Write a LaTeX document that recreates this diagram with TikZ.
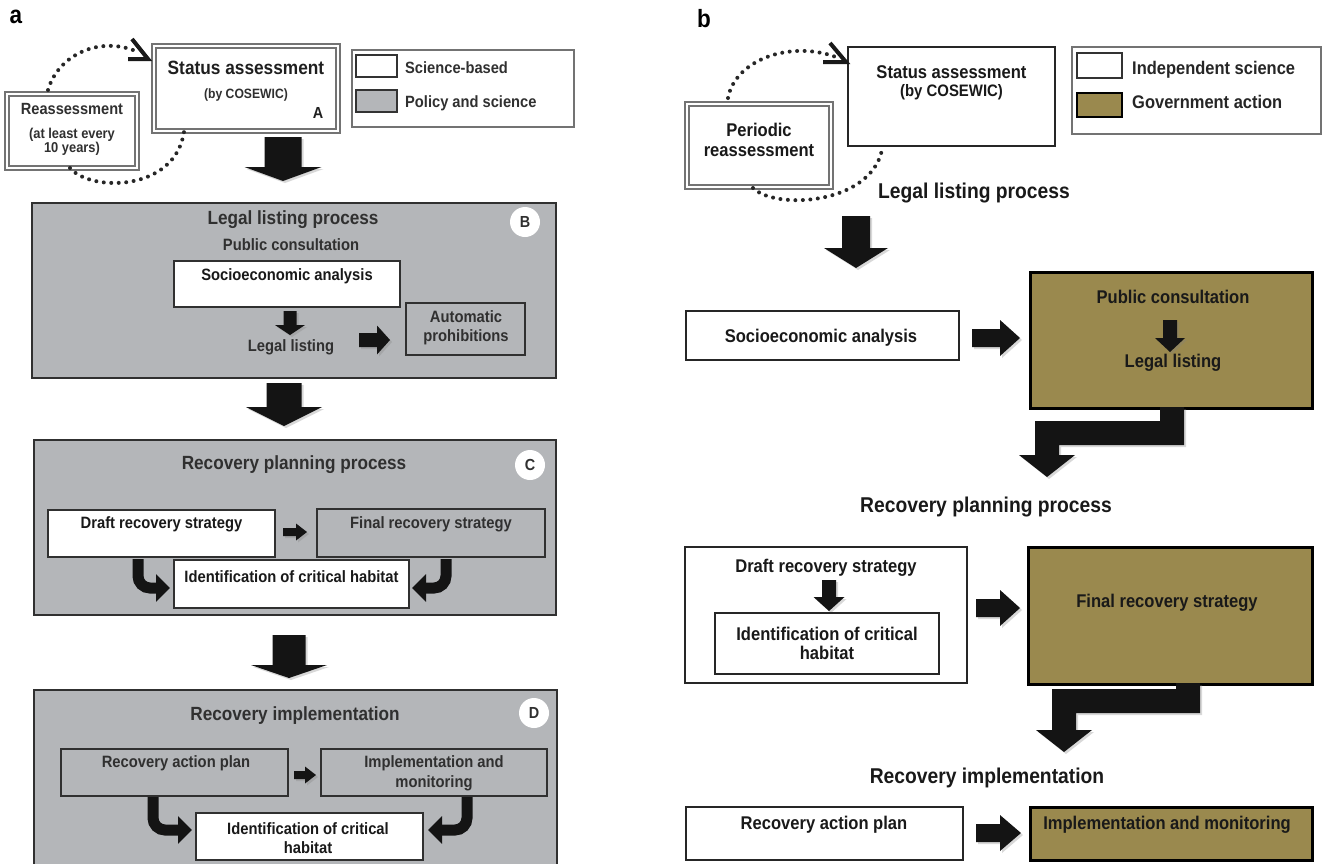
\documentclass[tikz,border=0pt]{standalone}
\usepackage{fontspec}
\setmainfont{Liberation Sans}[FakeStretch=0.9]
\usetikzlibrary{shadows,arrows.meta}
\definecolor{pgray}{RGB}{180,182,185}
\definecolor{olivefill}{RGB}{154,137,78}
\definecolor{dk}{RGB}{48,48,48}
\newcommand\BlkDown[6]{% cx, ytop, yhead, ytip, shaftw, headw
 \fill[blk] ({#1-#5/2},#2) -- ({#1+#5/2},#2) -- ({#1+#5/2},#3) -- ({#1+#6/2},#3) -- (#1,#4) -- ({#1-#6/2},#3) -- ({#1-#5/2},#3) -- cycle;}
\newcommand\BlkRight[6]{% cy, xstart, xhead, xtip, shafth, headh
 \fill[blk] (#2,{#1-#5/2}) -- (#3,{#1-#5/2}) -- (#3,{#1-#6/2}) -- (#4,#1) -- (#3,{#1+#6/2}) -- (#3,{#1+#5/2}) -- (#2,{#1+#5/2}) -- cycle;}
\tikzset{
 blk/.style={fill=black!92, drop shadow={opacity=0.3,shadow xshift=2pt,shadow yshift=-2pt}},
 gbox/.style={draw=dk, line width=2pt, fill=pgray, inner sep=0pt},
 wbox/.style={draw=dk, line width=2pt, fill=white, inner sep=0pt},
 dbox/.style={draw=black!55, double=white, double distance=2pt, line width=1.6pt, fill=white, inner sep=0pt},
 bbox/.style={draw=black!85, line width=2.5pt, fill=white, inner sep=0pt},
 obox/.style={draw=black, line width=3pt, fill=olivefill, inner sep=0pt},
 swatch/.style={draw=black!80, line width=2pt, inner sep=0pt},
 ta/.style={font=\bfseries\fontsize{16.4}{19}\selectfont, text=dk, inner sep=0pt, align=center},
 ha/.style={font=\bfseries\fontsize{19.1}{22}\selectfont, text=dk, inner sep=0pt, align=center},
 tb/.style={font=\bfseries\fontsize{18.4}{20}\selectfont, text=black!90, inner sep=0pt, align=center},
 hb/.style={font=\bfseries\fontsize{21.4}{24}\selectfont, text=black!90, inner sep=0pt, align=center},
 circ/.style={circle, fill=white, minimum size=30pt, inner sep=0pt, font=\bfseries\fontsize{16}{18}\selectfont, text=dk},
 dots/.style={line width=4pt, line cap=round, dash pattern=on 0pt off 7.5pt, draw=black!85},
 curv/.style={line width=11pt, draw=black!92, rounded corners=12pt, -{Triangle[length=14pt,width=27pt]}},
 headline/.style={line width=4pt, draw=black!90, line join=miter}
}
\begin{document}
\begin{tikzpicture}[x=1pt,y=-1pt]
\useasboundingbox (0,0) rectangle (1324,863);
\clip (0,0) rectangle (1324,863);
\fill[white] (0,0) rectangle (1324,863);

% ================= PANEL a =================
\node[font=\bfseries\fontsize{25}{28}\selectfont, inner sep=0pt] (la) at (16,17) {a};

\node[dbox, minimum width=130pt, minimum height=74pt] (reass) at (72,131) {};
\node[font=\bfseries\fontsize{16.2}{19}\selectfont, text=dk, inner sep=0pt] (reassT) at (72,109) {Reassessment};
\node[font=\bfseries\fontsize{14.3}{13.5}\selectfont, text=dk, inner sep=0pt, align=center] (reassS) at (72,142) {(at least every\\10 years)};

\node[dbox, minimum width=184pt, minimum height=85pt] (statA) at (246,88.5) {};
\node[font=\bfseries\fontsize{19.2}{22}\selectfont, text=black!88, inner sep=0pt] (statAT) at (246,68) {Status assessment};
\node[font=\bfseries\fontsize{13.5}{16}\selectfont, text=dk, inner sep=0pt] (statAS) at (246,95) {(by COSEWIC)};
\node[font=\bfseries\fontsize{16}{18}\selectfont, text=black!88, inner sep=0pt] (labA) at (318,113) {A};

\draw[dots] (48,90) .. controls (58,55) and (100,35) .. (138,52);
\draw[headline] (132,39) -- (148,59) -- (128,59);
\draw[dots] (70,168) .. controls (90,192) and (175,192) .. (184,132);

\node[draw=black!55, line width=1.5pt, fill=white, minimum width=222pt, minimum height=77pt, inner sep=0pt] (legA) at (463,88.5) {};
\node[swatch, fill=white, minimum width=41pt, minimum height=22pt] (swA1) at (376.5,66) {};
\node[swatch, fill=pgray, minimum width=41pt, minimum height=22pt] (swA2) at (376.5,101) {};
\node[font=\bfseries\fontsize{16.3}{19}\selectfont, text=dk, inner sep=0pt, anchor=west] (swA1T) at (405,68) {Science-based};
\node[font=\bfseries\fontsize{16.3}{19}\selectfont, text=dk, inner sep=0pt, anchor=west] (swA2T) at (405,103) {Policy and science};

\BlkDown{283}{137}{167}{181}{37}{77}

% Box B
\node[gbox, minimum width=524pt, minimum height=175pt] (boxB) at (294,290.5) {};
\node[circ] (cB) at (525,222) {B};
\node[ha] (hB) at (293,220) {Legal listing process};
\node[ta] (pubA) at (291,245) {Public consultation};
\node[wbox, minimum width=226pt, minimum height=46pt] (socA) at (287,284) {};
\node[ta, text=black!90] (socAT) at (287,276) {Socioeconomic analysis};
\BlkDown{290}{311}{325}{335}{13}{30}
\node[ta] (llA) at (291,347) {Legal listing};
\BlkRight{340}{359}{377}{390}{14}{29}
\node[gbox, minimum width=119pt, minimum height=52pt] (autoA) at (465.5,329) {};
\node[ta] (autoAT) at (466,328) {Automatic\\prohibitions};

\BlkDown{284}{383}{407}{426}{35}{76}

% Box C
\node[gbox, minimum width=522pt, minimum height=175pt] (boxC) at (295,527.5) {};
\node[circ] (cC) at (530,465) {C};
\node[ha] (hC) at (294,465) {Recovery planning process};
\node[wbox, minimum width=227pt, minimum height=47pt] (draftA) at (161.5,533.5) {};
\node[ta, text=black!90] (draftAT) at (161.5,524) {Draft recovery strategy};
\node[gbox, minimum width=228pt, minimum height=48pt] (finalA) at (431,533) {};
\node[ta] (finalAT) at (431,524) {Final recovery strategy};
\BlkRight{532}{283}{296}{307}{8}{17}
\node[wbox, minimum width=235pt, minimum height=48pt] (idC) at (291.5,584) {};
\node[ta, text=black!90] (idCT) at (291.5,577) {Identification of critical habitat};
\draw[curv] (138,559) |- (170,588);
\draw[curv] (446,559) |- (412,588);

\BlkDown{289}{635}{665}{678}{33}{76}

% Box D
\node[gbox, minimum width=523pt, minimum height=190pt] (boxD) at (295.5,785) {};
\node[circ] (cD) at (534,713) {D};
\node[ha] (hD) at (295,716) {Recovery implementation};
\node[gbox, minimum width=227pt, minimum height=47pt] (actA) at (174.5,772.5) {};
\node[ta] (actAT) at (176,763) {Recovery action plan};
\node[gbox, minimum width=226pt, minimum height=47pt] (implA) at (434,772.5) {};
\node[ta, font=\bfseries\fontsize{16.4}{20}\selectfont] (implAT) at (434,773) {Implementation and\\monitoring};
\BlkRight{775}{294}{305}{316}{8}{17}
\node[wbox, minimum width=227pt, minimum height=47pt] (idD) at (309.5,836.5) {};
\node[ta, text=black!90, font=\bfseries\fontsize{16.4}{18.5}\selectfont] (idDT) at (308,838) {Identification of critical\\habitat};
\draw[curv] (153,797) |- (192,830);
\draw[curv] (467,797) |- (428,830);

% ================= PANEL b =================
\node[font=\bfseries\fontsize{25}{28}\selectfont, inner sep=0pt] (lb) at (704,19) {b};

\node[dbox, minimum width=144pt, minimum height=83pt] (perB) at (759,145.5) {};
\node[tb] (perBT) at (759,140) {Periodic\\reassessment};

\node[bbox, minimum width=207pt, minimum height=99pt] (statB) at (951.5,96.5) {};
\node[tb] (statBT) at (951.5,72) {Status assessment};
\node[font=\bfseries\fontsize{16.6}{19}\selectfont, text=black!90, inner sep=0pt] (statBS) at (951.5,92) {(by COSEWIC)};

\draw[dots] (728,98) .. controls (735,60) and (790,40) .. (836,57);
\draw[headline] (830,43) -- (846,62) -- (823,62);
\draw[dots] (753,188) .. controls (775,210) and (870,205) .. (882,150);

\node[draw=black!55, line width=1.5pt, fill=white, minimum width=249pt, minimum height=87pt, inner sep=0pt] (legB) at (1196.5,90.5) {};
\node[swatch, fill=white, minimum width=45pt, minimum height=25pt] (swB1) at (1099.5,65.5) {};
\node[swatch, draw=black, fill=olivefill, minimum width=45pt, minimum height=24pt] (swB2) at (1099.5,105) {};
\node[font=\bfseries\fontsize{18.3}{21}\selectfont, text=black!85, inner sep=0pt, anchor=west] (swB1T) at (1132,70) {Independent science};
\node[font=\bfseries\fontsize{18.3}{21}\selectfont, text=black!85, inner sep=0pt, anchor=west] (swB2T) at (1132,102) {Government action};

\node[hb] (hLL) at (974,193) {Legal listing process};
\BlkDown{856}{216}{248}{268}{28}{64}

\node[bbox, minimum width=273pt, minimum height=49pt] (socB) at (822.5,335.5) {};
\node[tb] (socBT) at (821,338) {Socioeconomic analysis};
\BlkRight{338}{972}{1000}{1020}{18}{36}
\node[obox, minimum width=282pt, minimum height=136pt] (olv1) at (1171,340) {};
\node[tb] (pubB) at (1173,297) {Public consultation};
\BlkDown{1170}{320}{338}{352}{14}{30}
\node[tb] (llB) at (1173,363) {Legal listing};

\fill[blk] (1160,407) -- (1184,407) -- (1184,445) -- (1059,445) -- (1059,455) -- (1075,455) -- (1047,477) -- (1019,455) -- (1035,455) -- (1035,421) -- (1160,421) -- cycle;

\node[hb] (hRP) at (986,507) {Recovery planning process};

\node[bbox, minimum width=282pt, minimum height=136pt] (draftB) at (826,615) {};
\node[tb] (draftBT) at (826,568) {Draft recovery strategy};
\BlkDown{829}{580}{597}{611}{14}{31}
\node[bbox, line width=2pt, minimum width=224pt, minimum height=61pt] (idB) at (827,643.5) {};
\node[tb, font=\bfseries\fontsize{18.4}{19.5}\selectfont] (idBT) at (827,643.5) {Identification of critical\\habitat};
\BlkRight{608}{976}{1000}{1020}{18}{36}
\node[obox, minimum width=284pt, minimum height=137pt] (olv2) at (1170,615.5) {};
\node[tb] (finalBT) at (1167,603) {Final recovery strategy};

\fill[blk] (1176,683) -- (1200,683) -- (1200,713) -- (1076,713) -- (1076,730) -- (1092,730) -- (1064,752) -- (1036,730) -- (1052,730) -- (1052,689) -- (1176,689) -- cycle;

\node[hb] (hRI) at (987,778) {Recovery implementation};

\node[bbox, minimum width=277pt, minimum height=53pt] (actB) at (824.5,833.5) {};
\node[tb] (actBT) at (824,825) {Recovery action plan};
\BlkRight{833}{976}{1000}{1021}{18}{36}
\node[obox, minimum width=282pt, minimum height=53pt] (olv3) at (1171,833.5) {};
\node[tb] (implBT) at (1167,825) {Implementation and monitoring};
\end{tikzpicture}
\end{document}
